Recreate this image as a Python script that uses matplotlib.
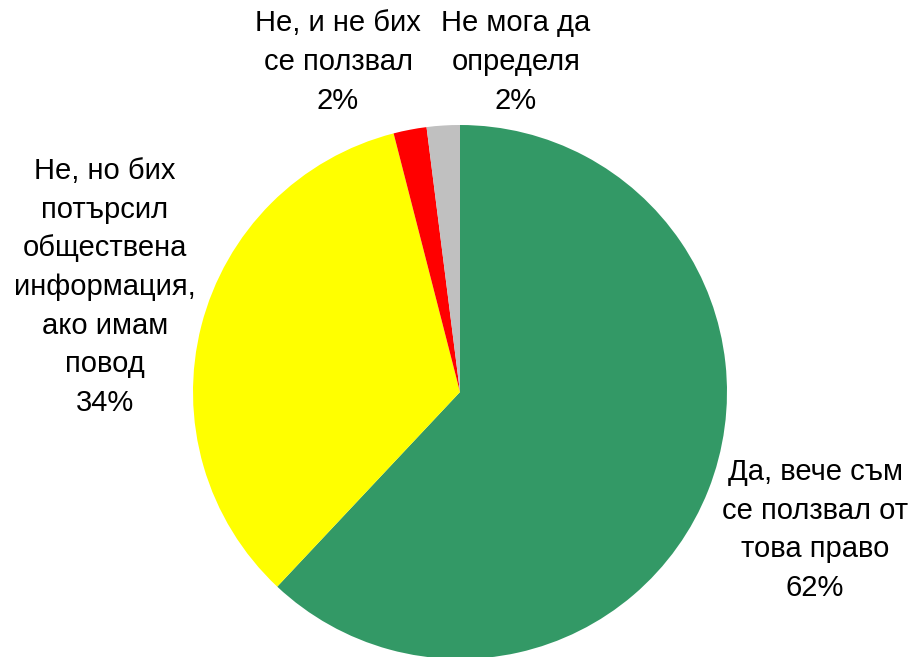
import matplotlib
matplotlib.use("Agg")
import matplotlib.pyplot as plt

labels = [
    "Да, вече съм\nсе ползвал от\nтова право",
    "Не, но бих\nпотърсил\nобществена\nинформация,\nако имам\nповод",
    "Не, и не бих\nсе ползвал",
    "Не мога да\nопределя",
]
values = [62, 34, 2, 2]
colors = ["#339966", "#FFFF00", "#FF0000", "#C0C0C0"]

# label centres in pixels of the 909x657 image
label_px = [(815, 530), (105, 287), (338, 62), (516, 62)]

W, H = 909, 657
cx, cy, r = 460, 392, 267

fig = plt.figure(figsize=(W / 100, H / 100), dpi=100)
ax = fig.add_axes([0, 0, 1, 1])
ax.pie(values, colors=colors, startangle=90, counterclock=False, radius=1,
       wedgeprops=dict(linewidth=0))
ax.set_xlim(-cx / r, (W - cx) / r)
ax.set_ylim(-(H - cy) / r, cy / r)
ax.set_aspect("auto")
ax.axis("off")

total = sum(values)
for lab, v, (px, py) in zip(labels, values, label_px):
    pct = round(100 * v / total)
    ax.text((px - cx) / r, (cy - py) / r, f"{lab}\n{pct}%",
            ha="center", va="center", multialignment="center",
            fontsize=21, family="Liberation Sans", linespacing=1.48, color="black")

fig.savefig("out.png", dpi=100)
